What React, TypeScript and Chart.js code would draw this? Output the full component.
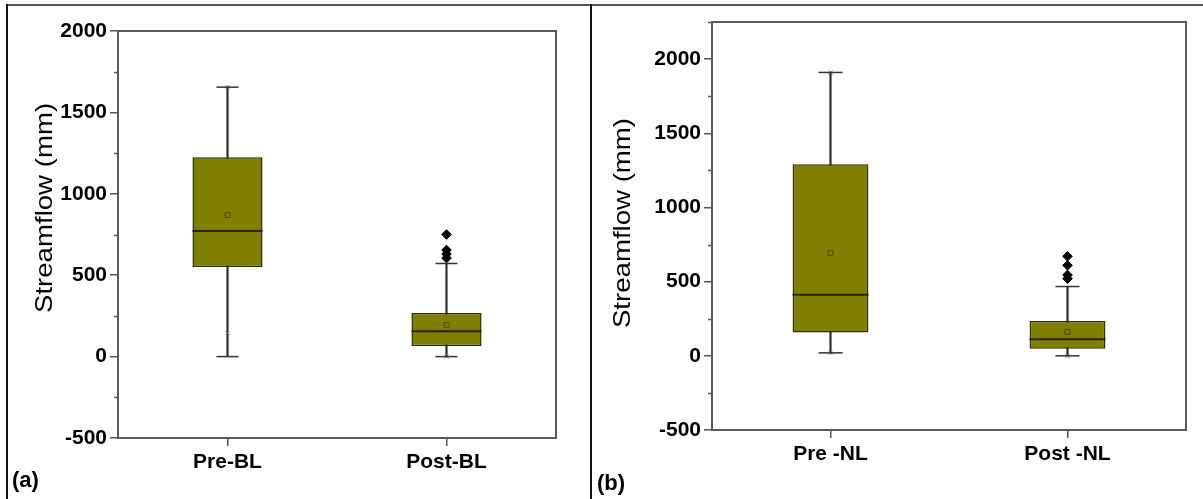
import React, { useEffect, useRef } from 'react';
import { Chart, registerables } from 'chart.js';

Chart.register(...registerables);
Chart.defaults.font.family = "'Liberation Sans', Arial, sans-serif";

// ---------- Panel (a) data ----------
const categoriesBL = ['Pre-BL', 'Post-BL'];
const q1BL = [550, 65];
const q3BL = [1225, 268];
const medianBL = [771, 155];
const meanBL = [870, 194];
const whiskerLowBL = [0, 0];
const whiskerHighBL = [1655, 572];
const outlierCatBL = ['Post-BL', 'Post-BL', 'Post-BL', 'Post-BL'];
const outlierValBL = [750, 655, 630, 605];
const pctCatBL = ['Pre-BL', 'Pre-BL', 'Post-BL'];
const pctValBL = [145, 1655, 0];
const yMinBL = -500;
const yMaxBL = 2000;

// ---------- Panel (b) data ----------
const categoriesNL = ['Pre -NL', 'Post -NL'];
const q1NL = [157, 47];
const q3NL = [1291, 234];
const medianNL = [411, 112];
const meanNL = [694, 162];
const whiskerLowNL = [20, 0];
const whiskerHighNL = [1910, 467];
const outlierCatNL = ['Post -NL', 'Post -NL', 'Post -NL', 'Post -NL'];
const outlierValNL = [671, 610, 545, 520];
const pctCatNL = ['Pre -NL', 'Pre -NL', 'Post -NL'];
const pctValNL = [20, 1910, 0];
const yMinNL = -500;
const yMaxNL = 2250;

const MAJOR = 500;

interface PanelProps {
  categories: string[];
  q1: number[];
  q3: number[];
  median: number[];
  mean: number[];
  wLow: number[];
  wHigh: number[];
  outCat: string[];
  outVal: number[];
  pctCat: string[];
  pctVal: number[];
  yMin: number;
  yMax: number;
  width: number;
  height: number;
  padTop: number;
  padRight: number;
  yAxisWidth: number;
  xAxisHeight: number;
  halfBox: number;
  capR: number;
}

const framePlugin = {
  id: 'frameAndMinor',
  afterDraw(chart: any) {
    const { ctx, chartArea } = chart;
    const y = chart.scales.y;
    ctx.save();
    // minor ticks
    ctx.strokeStyle = '#555';
    ctx.lineWidth = 1.5;
    y.ticks.forEach((t: any) => {
      if (t.value % MAJOR !== 0) {
        const py = Math.round(y.getPixelForValue(t.value)) + 0.5;
        ctx.beginPath();
        ctx.moveTo(chartArea.left - 4, py);
        ctx.lineTo(chartArea.left, py);
        ctx.stroke();
      }
    });
    // frame
    ctx.strokeStyle = '#5a5a5a';
    ctx.lineWidth = 2;
    ctx.strokeRect(chartArea.left, chartArea.top, chartArea.right - chartArea.left, chartArea.bottom - chartArea.top);
    ctx.restore();
  },
};

function BoxPanel(p: PanelProps) {
  const ref = useRef<HTMLCanvasElement | null>(null);
  useEffect(() => {
    if (!ref.current) return;
    const capPoints: any[] = [];
    p.categories.forEach((c, i) => {
      capPoints.push({ x: c, y: p.wLow[i] });
      capPoints.push({ x: c, y: p.wHigh[i] });
    });
    const chart = new Chart(ref.current, {
      type: 'bar',
      data: {
        labels: p.categories,
        datasets: [
          {
            type: 'bar',
            data: p.categories.map((_, i) => [p.wLow[i], p.wHigh[i]]),
            backgroundColor: '#2b2b2b',
            barThickness: 1.5,
            grouped: false,
            order: 6,
          } as any,
          {
            type: 'bar',
            data: p.categories.map((_, i) => [p.q1[i], p.q3[i]]),
            backgroundColor: '#808000',
            borderColor: '#2e2e00',
            borderWidth: 1.5,
            borderSkipped: false,
            barPercentage: 0.32,
            categoryPercentage: 1,
            grouped: false,
            order: 5,
          } as any,
          {
            type: 'line',
            data: p.median,
            showLine: false,
            clip: false,
            pointStyle: 'line',
            pointRadius: p.halfBox,
            pointBorderWidth: 2,
            pointBorderColor: '#262600',
            order: 1,
          } as any,
          {
            type: 'line',
            data: capPoints,
            showLine: false,
            clip: false,
            pointStyle: 'line',
            pointRadius: p.capR,
            pointBorderWidth: 1.5,
            pointBorderColor: '#333',
            order: 1,
          } as any,
          {
            type: 'line',
            data: p.mean,
            showLine: false,
            clip: false,
            pointStyle: 'rect',
            pointRadius: 3.5,
            pointBackgroundColor: 'rgba(0,0,0,0)',
            pointBorderWidth: 1,
            pointBorderColor: '#4a4a00',
            order: 1,
          } as any,
          {
            type: 'line',
            data: p.pctCat.map((c, i) => ({ x: c, y: p.pctVal[i] })),
            showLine: false,
            clip: false,
            pointStyle: 'crossRot',
            pointRadius: 3,
            pointBorderWidth: 1,
            pointBorderColor: '#777',
            order: 1,
          } as any,
          {
            type: 'line',
            data: p.outCat.map((c, i) => ({ x: c, y: p.outVal[i] })),
            showLine: false,
            clip: false,
            pointStyle: 'rectRot',
            pointRadius: 4.8,
            pointBackgroundColor: '#000',
            pointBorderColor: '#000',
            pointBorderWidth: 1,
            order: 0,
          } as any,
        ],
      },
      options: {
        animation: false,
        responsive: false,
        maintainAspectRatio: false,
        layout: { autoPadding: false, padding: { top: p.padTop, right: p.padRight, left: 0, bottom: 0 } },
        plugins: { legend: { display: false }, tooltip: { enabled: false } },
        scales: {
          x: {
            type: 'category',
            offset: true,
            grid: {
              offset: false,
              drawOnChartArea: false,
              drawTicks: true,
              tickLength: 8,
              color: '#555',
              lineWidth: 1.5,
            },
            border: { display: true, color: '#5a5a5a', width: 2 },
            ticks: {
              color: '#000',
              font: { size: 21, weight: 'bold' },
              padding: 4,
            },
            afterFit: (s: any) => {
              s.height = p.xAxisHeight;
            },
          } as any,
          y: {
            type: 'linear',
            min: p.yMin,
            max: p.yMax,
            grid: {
              drawOnChartArea: false,
              drawTicks: true,
              tickLength: 8,
              lineWidth: 1.5,
              color: (ctx: any) => (ctx.tick && ctx.tick.value % MAJOR === 0 ? '#555' : 'rgba(0,0,0,0)'),
              tickColor: (ctx: any) => (ctx.tick && ctx.tick.value % MAJOR === 0 ? '#555' : 'rgba(0,0,0,0)'),
            },
            border: { display: true, color: '#5a5a5a', width: 2 },
            ticks: {
              stepSize: 250,
              autoSkip: false,
              color: '#000',
              padding: 3,
              font: { size: 21, weight: 'bold' },
              callback: (v: any) => (Number(v) % MAJOR === 0 ? String(v) : ''),
            },
            afterFit: (s: any) => {
              s.width = p.yAxisWidth;
            },
          } as any,
        },
      },
      plugins: [framePlugin],
    });
    return () => chart.destroy();
  }, []);
  return (
    <canvas
      ref={ref}
      width={p.width}
      height={p.height}
      style={{ width: p.width, height: p.height, display: 'block' }}
    />
  );
}

const titleStyle: React.CSSProperties = {
  position: 'absolute',
  fontFamily: "'Liberation Sans', Arial, sans-serif",
  fontSize: 24,
  color: '#000',
  whiteSpace: 'nowrap',
  lineHeight: 1,
};

export default function App() {
  return (
    <div
      style={{
        position: 'absolute',
        left: 0,
        top: 0,
        width: 1203,
        height: 499,
        background: '#fff',
        overflow: 'hidden',
        fontFamily: "'Liberation Sans', Arial, sans-serif",
      }}
    >
      {/* outer figure frame */}
      <div style={{ position: 'absolute', left: 7, top: 4, width: 1196, height: 2, background: '#555' }} />
      <div style={{ position: 'absolute', left: 6, top: 4, width: 2, height: 495, background: '#111' }} />
      <div style={{ position: 'absolute', left: 590, top: 4, width: 2, height: 495, background: '#111' }} />

      <div style={{ position: 'absolute', left: 0, top: 0 }}>
        <BoxPanel
          categories={categoriesBL}
          q1={q1BL}
          q3={q3BL}
          median={medianBL}
          mean={meanBL}
          wLow={whiskerLowBL}
          wHigh={whiskerHighBL}
          outCat={outlierCatBL}
          outVal={outlierValBL}
          pctCat={pctCatBL}
          pctVal={pctValBL}
          yMin={yMinBL}
          yMax={yMaxBL}
          width={588}
          height={499}
          padTop={31}
          padRight={32}
          yAxisWidth={118}
          xAxisHeight={61}
          halfBox={35}
          capR={11}
        />
      </div>
      <div style={{ position: 'absolute', left: 592, top: 0 }}>
        <BoxPanel
          categories={categoriesNL}
          q1={q1NL}
          q3={q3NL}
          median={medianNL}
          mean={meanNL}
          wLow={whiskerLowNL}
          wHigh={whiskerHighNL}
          outCat={outlierCatNL}
          outVal={outlierValNL}
          pctCat={pctCatNL}
          pctVal={pctValNL}
          yMin={yMinNL}
          yMax={yMaxNL}
          width={611}
          height={499}
          padTop={22}
          padRight={17}
          yAxisWidth={120}
          xAxisHeight={69}
          halfBox={38}
          capR={12}
        />
      </div>

      {/* y-axis titles */}
      <div
        style={{
          ...titleStyle,
          left: 44,
          top: 208,
          transform: 'translate(-50%, -50%) rotate(-90deg) scaleX(1.15)',
        }}
      >
        Streamflow (mm)
      </div>
      <div
        style={{
          ...titleStyle,
          left: 622,
          top: 223,
          transform: 'translate(-50%, -50%) rotate(-90deg) scaleX(1.15)',
        }}
      >
        Streamflow (mm)
      </div>

      {/* panel letters */}
      <div style={{ ...titleStyle, left: 12, top: 469, fontSize: 22, fontWeight: 'bold' }}>(a)</div>
      <div style={{ ...titleStyle, left: 597, top: 472, fontSize: 22, fontWeight: 'bold' }}>(b)</div>
    </div>
  );
}
